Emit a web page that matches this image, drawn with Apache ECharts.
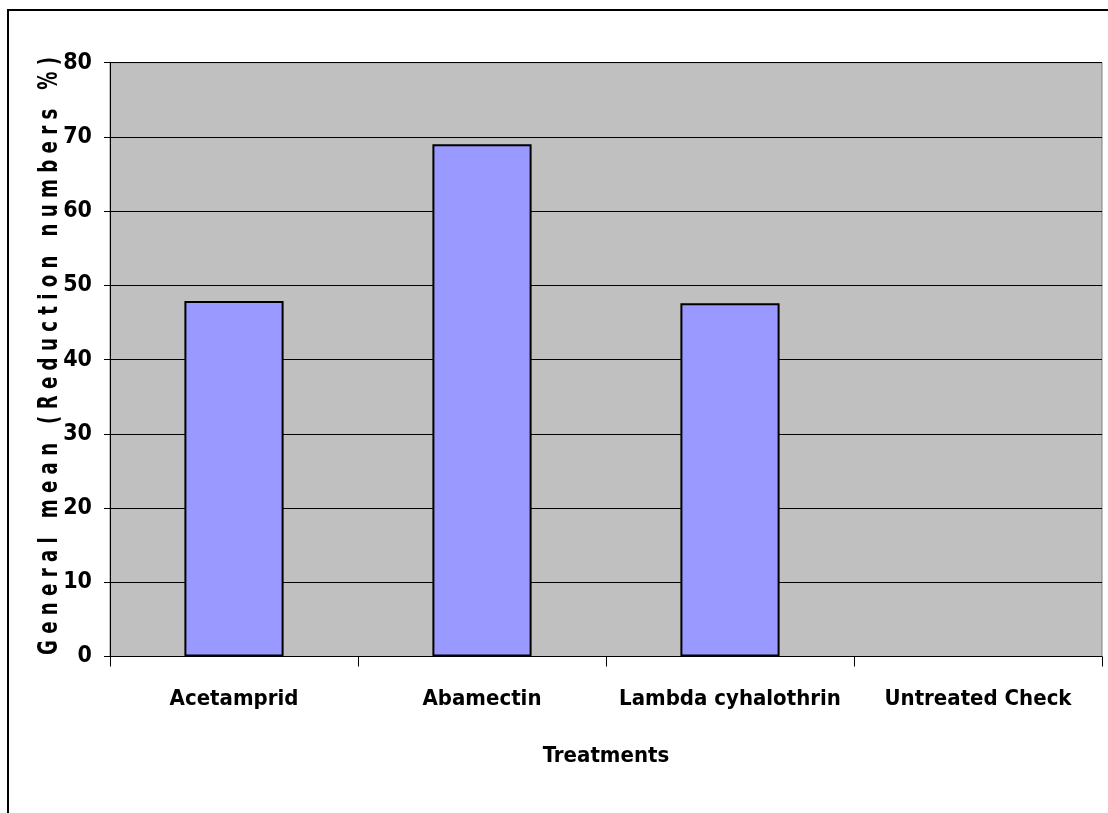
<!DOCTYPE html>
<html>
<head>
<meta charset="utf-8">
<style>
  html, body { margin: 0; padding: 0; background: #ffffff; }
  #chart { width: 1108px; height: 813px; }
</style>
<script src="https://cdn.jsdelivr.net/npm/echarts@6/dist/echarts.min.js"></script>
</head>
<body>
<div id="chart"></div>
<script>
// Treatments and their general mean reduction (%)
const categories = ['Acetamprid', 'Abamectin', 'Lambda cyhalothrin', 'Untreated Check'];
const reduction = [47.9, 69.0, 47.6, 0];
const yTicks = [0, 10, 20, 30, 40, 50, 60, 70, 80];

const yTitle = 'General mean (Reduction numbers %)';
const xTitle = 'Treatments';

const FONT = "'DejaVu Sans Condensed', 'Liberation Sans', sans-serif";

// Spaced-out value-axis title, squeezed to fit the plot height
const titleText = yTitle.split('').join(' ');
const titleSize = 27;
const titleLength = 598;
const measureCtx = document.createElement('canvas').getContext('2d');
measureCtx.font = 'bold ' + titleSize + 'px ' + FONT;
const titleScale = titleLength / measureCtx.measureText(titleText).width;

const chart = echarts.init(document.getElementById('chart'));

chart.setOption({
  backgroundColor: '#ffffff',
  animation: false,
  grid: {
    left: 110,
    right: 6,
    top: 62.7,
    bottom: 156.5,
    show: true,
    backgroundColor: '#c0c0c0',
    borderColor: '#808080',
    borderWidth: 1
  },
  xAxis: {
    type: 'category',
    data: categories,
    boundaryGap: true,
    axisLine: { lineStyle: { color: '#000000', width: 1 } },
    axisTick: { show: true, length: 10, lineStyle: { color: '#000000' } },
    axisLabel: {
      interval: 0,
      margin: 32,
      fontFamily: FONT,
      fontWeight: 'bold',
      fontSize: 22,
      color: '#000000'
    },
    name: xTitle,
    nameLocation: 'middle',
    nameGap: 89,
    nameTextStyle: {
      fontFamily: FONT,
      fontWeight: 'bold',
      fontSize: 22,
      color: '#000000'
    }
  },
  yAxis: {
    type: 'value',
    min: yTicks[0],
    max: yTicks[yTicks.length - 1],
    interval: yTicks[1] - yTicks[0],
    axisLine: { show: true, lineStyle: { color: '#000000', width: 1 } },
    axisTick: { show: true, length: 6, lineStyle: { color: '#000000' } },
    splitLine: { show: true, lineStyle: { color: '#000000', width: 1 } },
    axisLabel: {
      margin: 18,
      fontFamily: FONT,
      fontWeight: 'bold',
      fontSize: 23,
      color: '#000000'
    }
  },
  series: [{
    type: 'bar',
    // a zero-height bar gets no outline
    data: reduction.map(v => v === 0 ? { value: v, itemStyle: { borderWidth: 0 } } : v),
    barWidth: '40%',
    itemStyle: {
      color: '#9999ff',
      borderColor: '#000000',
      borderWidth: 2
    }
  }],
  graphic: [
    {
      // outer chart frame
      type: 'rect',
      shape: { x: 8, y: 10, width: 1300, height: 1000 },
      style: { fill: 'none', stroke: '#000000', lineWidth: 2 },
      silent: true
    },
    {
      type: 'text',
      x: 50,
      y: 356,
      rotation: Math.PI / 2,
      scaleX: titleScale,
      scaleY: 1,
      style: {
        text: titleText,
        fontFamily: FONT,
        fontWeight: 'bold',
        fontSize: titleSize,
        fill: '#000000',
        align: 'center',
        verticalAlign: 'middle'
      },
      silent: true
    }
  ]
});
</script>
</body>
</html>
